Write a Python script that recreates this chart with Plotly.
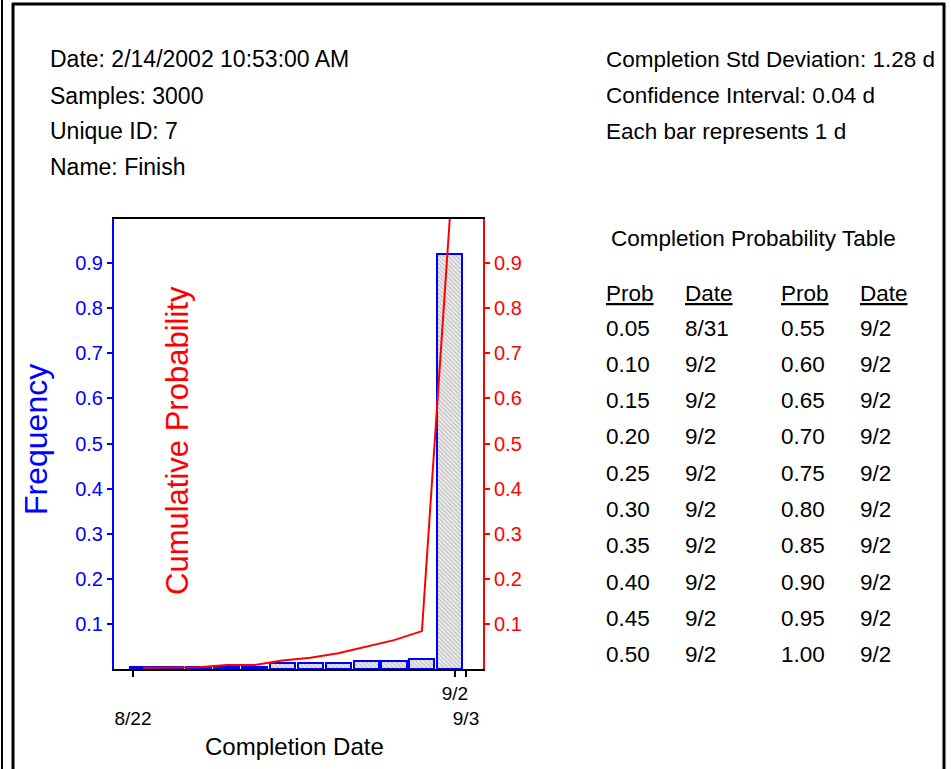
import plotly.graph_objects as go

# ---------------- data ----------------
bar_days = list(range(12))  # one bar per day, 8/22 .. 9/2
frequency = [0.004, 0.004, 0.004, 0.004, 0.004, 0.013, 0.013, 0.013, 0.018, 0.018, 0.022, 0.92]
cumulative = [0.003, 0.003, 0.004, 0.009, 0.009, 0.019, 0.025, 0.035, 0.049, 0.064, 0.084, 1.0]

x_tick_vals = [-0.36, 11.18, 11.58]
x_tick_text = ["<br>8/22", "9/2", "<br>9/3"]
y_tick_vals = [0.1, 0.2, 0.3, 0.4, 0.5, 0.6, 0.7, 0.8, 0.9]
y_tick_text = ["0.1", "0.2", "0.3", "0.4", "0.5", "0.6", "0.7", "0.8", "0.9"]

info_left = ["Date: 2/14/2002 10:53:00 AM", "Samples: 3000", "Unique ID: 7", "Name: Finish"]
info_right = ["Completion Std Deviation: 1.28 d", "Confidence Interval: 0.04 d", "Each bar represents 1 d"]

table_title = "Completion Probability Table"
table_headers = ["Prob", "Date", "Prob", "Date"]
prob_left = ["0.05", "0.10", "0.15", "0.20", "0.25", "0.30", "0.35", "0.40", "0.45", "0.50"]
date_left = ["8/31", "9/2", "9/2", "9/2", "9/2", "9/2", "9/2", "9/2", "9/2", "9/2"]
prob_right = ["0.55", "0.60", "0.65", "0.70", "0.75", "0.80", "0.85", "0.90", "0.95", "1.00"]
date_right = ["9/2"] * 10

# ---------------- layout helpers ----------------
W, H = 951, 769
FONT = "Liberation Sans, Arial, sans-serif"


def px(x):
    return x / W


def py(y):
    return 1 - y / H


fig = go.Figure()

fig.add_trace(go.Bar(
    x=bar_days, y=frequency, width=0.9,
    marker=dict(
        color="#e6e6e6",
        line=dict(color="#0000FF", width=2),
        pattern=dict(shape="\\", fgcolor="#8a8a8a", bgcolor="#ececec", size=3, solidity=0.35),
    ),
    yaxis="y", showlegend=False, hoverinfo="skip",
))

fig.add_trace(go.Scatter(
    x=bar_days, y=cumulative, mode="lines",
    line=dict(color="#FF0000", width=2),
    yaxis="y2", showlegend=False, hoverinfo="skip",
))

x_dom = [px(114), px(483)]
y_dom = [py(669), py(219)]

fig.update_layout(
    width=W, height=H,
    margin=dict(l=0, r=0, t=0, b=0),
    paper_bgcolor="white", plot_bgcolor="white",
    bargap=0,
    xaxis=dict(
        domain=x_dom, range=[-1.04, 12.19],
        showgrid=False, zeroline=False,
        showline=True, linecolor="black", linewidth=2, mirror=True,
        tickmode="array", tickvals=x_tick_vals, ticktext=x_tick_text,
        ticks="outside", ticklen=6, tickcolor="black", tickwidth=1.5,
        tickangle=0,
        tickfont=dict(family=FONT, size=19, color="black"),
        automargin=False,
    ),
    yaxis=dict(
        domain=y_dom, range=[0, 0.998],
        showgrid=False, zeroline=False,
        showline=True, linecolor="#0000FF", linewidth=2,
        tickmode="array", tickvals=y_tick_vals, ticktext=y_tick_text,
        ticks="outside", ticklen=5, tickcolor="#0000FF", tickwidth=1.5,
        tickfont=dict(family=FONT, size=20, color="#0000FF"),
        automargin=False,
    ),
    yaxis2=dict(
        overlaying="y", side="right", range=[0, 0.998],
        showgrid=False, zeroline=False,
        showline=True, linecolor="#FF0000", linewidth=2,
        tickmode="array", tickvals=y_tick_vals, ticktext=y_tick_text,
        ticks="outside", ticklen=5, tickcolor="#FF0000", tickwidth=1.5,
        tickfont=dict(family=FONT, size=20, color="#FF0000"),
        automargin=False,
    ),
)

ann = []


def add_text(x, y, text, size=23, color="black", xanchor="left", angle=0):
    ann.append(dict(
        x=px(x), y=py(y), xref="paper", yref="paper", text=text, showarrow=False,
        xanchor=xanchor, yanchor="middle", textangle=angle,
        font=dict(family=FONT, size=size, color=color),
    ))


info_y = [59, 96, 131, 167]
for t, yy in zip(info_left, info_y):
    add_text(48, yy, t)
for t, yy in zip(info_right, info_y):
    add_text(604, yy, t, size=22.5)

add_text(609, 238, table_title, size=22.5)
header_x = [604, 683, 779, 858]
for t, xx in zip(table_headers, header_x):
    add_text(xx, 293, "<u>" + t + "</u>", size=22.5)

row_y0, row_dy = 328, 36.3
for i in range(10):
    yy = row_y0 + i * row_dy
    add_text(header_x[0], yy, prob_left[i], size=22.5)
    add_text(header_x[1], yy, date_left[i], size=22.5)
    add_text(header_x[2], yy, prob_right[i], size=22.5)
    add_text(header_x[3], yy, date_right[i], size=22.5)

add_text(36, 440, "Frequency", size=32, color="#0000FF", xanchor="center", angle=-90)
add_text(177, 441, "Cumulative Probability", size=31, color="#FF0000", xanchor="center", angle=-90)
add_text(294, 746, "Completion Date", size=24, xanchor="center")

fig.update_layout(annotations=ann)

# frame lines
shapes = [
    dict(type="line", xref="paper", yref="paper", x0=px(2), x1=px(2), y0=0, y1=1,
         line=dict(color="black", width=2)),
    dict(type="line", xref="paper", yref="paper", x0=px(13), x1=px(13), y0=0, y1=py(3),
         line=dict(color="black", width=3)),
    dict(type="line", xref="paper", yref="paper", x0=px(12), x1=px(945), y0=py(4), y1=py(4),
         line=dict(color="black", width=3)),
    dict(type="line", xref="paper", yref="paper", x0=px(944), x1=px(944), y0=0, y1=py(3),
         line=dict(color="black", width=3)),
]
fig.update_layout(shapes=shapes)

fig.write_html("out.html", config={"displayModeBar": False},
               post_script="document.body.style.margin='0px';")
